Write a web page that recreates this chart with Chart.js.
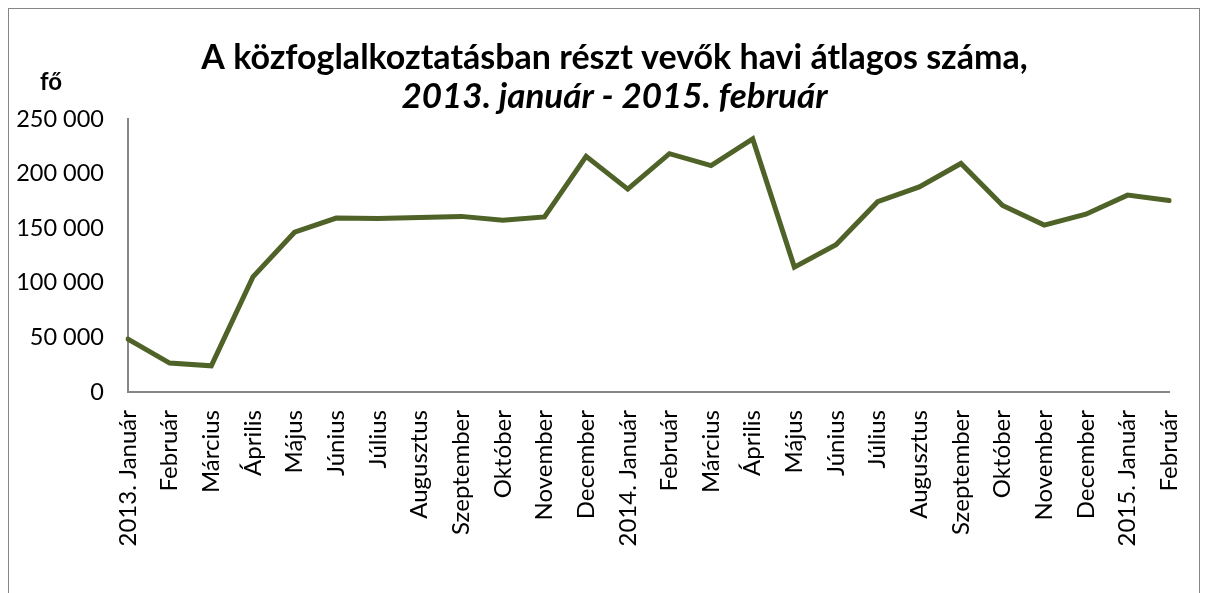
<!DOCTYPE html>
<html>
<head>
<meta charset="utf-8">
<script src="https://cdn.jsdelivr.net/npm/chart.js@4"></script>
<style>
  html, body { margin: 0; padding: 0; background: #fff; }
  #wrap { width: 1208px; height: 593px; position: relative; }
</style>
</head>
<body>
<div id="wrap"><canvas id="myChart"></canvas></div>
<script>
const months = [
  "2013. Január", "Február", "Március", "Április", "Május", "Június", "Július",
  "Augusztus", "Szeptember", "Október", "November", "December",
  "2014. Január", "Február", "Március", "Április", "Május", "Június", "Július",
  "Augusztus", "Szeptember", "Október", "November", "December",
  "2015. Január", "Február"
];
const letszam = [
  48500, 26500, 24000, 105500, 146500, 159500, 159000, 160000, 161000, 157500,
  160500, 216000, 186000, 218500, 207500, 232000, 114500, 135000, 174500, 188000,
  209500, 171000, 153000, 163000, 180500, 175500
];
const yTicks = [0, 50000, 100000, 150000, 200000, 250000];

const FONT = "Lato, 'Open Sans', sans-serif";

const frame = {
  id: "frame",
  afterLayout: (chart) => {
    // nudge title + subtitle to the right, like the original
    chart.boxes
      .filter((b) => b.position === "top" && b.options && b.options.text)
      .forEach((b) => { b.left += 26; });
  },
  afterDraw: (chart) => {
    const ctx = chart.ctx;
    ctx.save();
    ctx.strokeStyle = "#868686";
    ctx.lineWidth = 1;
    ctx.strokeRect(8.5, 8.5, 1191, 700);
    // unit label
    ctx.fillStyle = "#000";
    ctx.font = "bold 24px " + FONT;
    ctx.textAlign = "center";
    ctx.textBaseline = "middle";
    ctx.fillText("fő", 51, 82);
    ctx.restore();
  },
};

new Chart(document.getElementById("myChart"), {
  type: "line",
  data: {
    labels: months,
    datasets: [
      {
        label: "fő",
        data: letszam,
        borderColor: "#4F6228",
        borderWidth: 5,
        pointRadius: 0,
        tension: 0,
        borderCapStyle: "round",
        borderJoinStyle: "miter",
      },
    ],
  },
  options: {
    responsive: true,
    maintainAspectRatio: false,
    animation: false,
    layout: { padding: { left: 10, right: 15, top: 0, bottom: 0 } },
    plugins: {
      legend: { display: false },
      tooltip: { enabled: false },
      title: {
        display: true,
        text: "A közfoglalkoztatásban részt vevők havi átlagos száma,",
        color: "#000",
        font: { family: FONT, size: 34, weight: "bold", lineHeight: 1.15 },
        padding: { top: 38, bottom: 0 },
      },
      subtitle: {
        display: true,
        text: "2013. január - 2015. február",
        color: "#000",
        font: { family: FONT, size: 35, weight: "bold", style: "italic", lineHeight: 1.12 },
        padding: { top: 0, bottom: 3 },
      },
    },
    scales: {
      x: {
        grid: { display: false },
        border: { display: true, color: "#868686", width: 2 },
        ticks: {
          color: "#000",
          font: { family: FONT, size: 24 },
          minRotation: 90,
          maxRotation: 90,
          autoSkip: false,
          padding: 10,
        },
        afterFit: (scale) => { scale.height = 201; },
      },
      y: {
        min: 0,
        max: 250000,
        grid: { display: false },
        border: { display: true, color: "#868686", width: 2 },
        afterBuildTicks: (scale) => { scale.ticks = yTicks.map((v) => ({ value: v })); },
        ticks: {
          color: "#000",
          font: { family: FONT, size: 23.5 },
          padding: 16,
          callback: (v) => v.toLocaleString("en-US").replace(/,/g, " "),
        },
        afterFit: (scale) => { scale.width = 118; },
      },
    },
  },
  plugins: [frame],
});
</script>
</body>
</html>
